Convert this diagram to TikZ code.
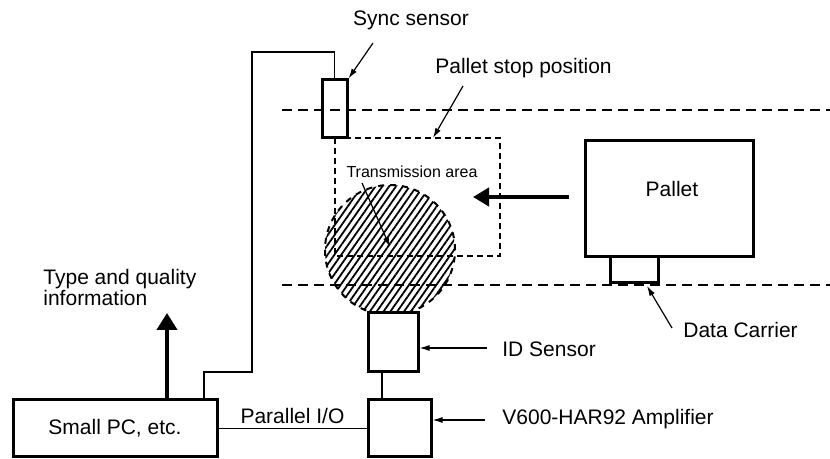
\documentclass[tikz,border=0pt]{standalone}
\usepackage{fontspec}
\setmainfont{Liberation Sans}
\usetikzlibrary{arrows.meta,patterns.meta,positioning}

\begin{document}
\begin{tikzpicture}[x=0.5pt,y=-0.5pt,
  font=\fontsize{10.5}{10.5}\selectfont,
  box/.style={draw,line width=1.5pt,inner sep=0pt},
  wire/.style={line width=0.8pt},
  track/.style={line width=1.2pt,dash pattern=on 5pt off 3pt},
  leader/.style={line width=0.6pt,-{Latex[length=5pt,width=3pt]}},
  bigarrow/.style={line width=2pt,-{Triangle[length=8pt,width=9pt]}}]
  \useasboundingbox (0,0) rectangle (830,459);

  % transmission area
  \node[circle,draw,dashed,line width=1pt,minimum size=65pt,inner sep=0pt,
        pattern={Lines[angle=55,distance=2.8pt,line width=0.9pt]}] (area) at (390,250) {};

  % pallet stop position
  \draw[line width=1pt,dash pattern=on 3pt off 2pt] (335,138) rectangle (500,256);

  % conveyor
  \coordinate (t1) at (282,110);
  \coordinate (t2) at (830,110);
  \coordinate (b1) at (282,285);
  \coordinate (b2) at (830,285);
  \draw[track] (t1) -- (t2);
  \draw[track] (b1) -- (b2);

  \node[box,minimum width=12.5pt,minimum height=29pt] (sync) at (334.5,109) {};
  \node[box,fill=white,minimum width=25pt,minimum height=29.5pt] (id) at (393,342.5) {};
  \node[box,minimum width=31.5pt,minimum height=28.5pt] (amp) at (399.5,428.5) {};
  \node[box,minimum width=102pt,minimum height=28.5pt] (pc) at (115,428.5) {Small PC, etc.};
  \node[box,minimum width=84pt,minimum height=58pt] (pallet) at (669,199) {};
  \node (palletlabel) at (672,189) {Pallet};
  \node[box,minimum width=24pt,minimum height=13pt] (carrier) at (634,270) {};

  % wiring
  \coordinate (bend) at (204,372);
  \draw[wire] (sync.north) |- (252,52) |- (bend) -- (bend |- pc.north);
  \draw[wire] (pc) -- node[above,inner sep=2pt] (pio) {Parallel I/O} (amp);
  \draw[wire] ([xshift=-5.5pt]id.south) -- ([xshift=-5.5pt]id.south |- amp.north);

  % motion and output
  \coordinate (push) at (473,197);
  \draw[bigarrow] ([xshift=-7.5pt]pallet.west |- push) -- (push);
  \coordinate (up) at (167,313);
  \draw[bigarrow,-{Triangle[length=8.5pt,width=10pt]}] (up |- pc.north) -- (up);

  % labels
  \node (synctxt) at (411,20) {Sync sensor};
  \node[anchor=west,inner sep=0pt] (stoptxt) at (435,68) {Pallet stop position};
  \node[font=\fontsize{8}{8}\selectfont] (areatxt) at (412,172) {Transmission area};
  \node[anchor=west,align=left,inner sep=0pt] (infotxt) at (43,287.5) {Type and quality\\information};
  \node[anchor=west,inner sep=0pt] (idtxt) at (502,349) {ID Sensor};
  \node[anchor=west,inner sep=0pt] (amptxt) at (502,419) {V600-HAR92 Amplifier};
  \node[anchor=west,inner sep=0pt] (carriertxt) at (683,330) {Data Carrier};

  % leaders
  \coordinate (syncfrom) at (373,43);
  \coordinate (stopfrom) at (463,86);
  \coordinate (stoptip) at (433,138);
  \coordinate (areafrom) at (362,183);
  \coordinate (areatip) at (390,247);
  \coordinate (idfrom) at (487,348);
  \coordinate (ampfrom) at (485,420);
  \coordinate (carrierfrom) at (672,328);
  \coordinate (carriertip) at (647,286);
  \draw[leader] (syncfrom) -- (sync.north east);
  \draw[leader] (stopfrom) -- (stoptip);
  \draw[leader] (areafrom) -- (areatip);
  \draw[leader] (idfrom) -- (idfrom -| id.east);
  \draw[leader] (ampfrom) -- (ampfrom -| amp.east);
  \draw[leader] (carrierfrom) -- (carriertip);
\end{tikzpicture}
\end{document}
